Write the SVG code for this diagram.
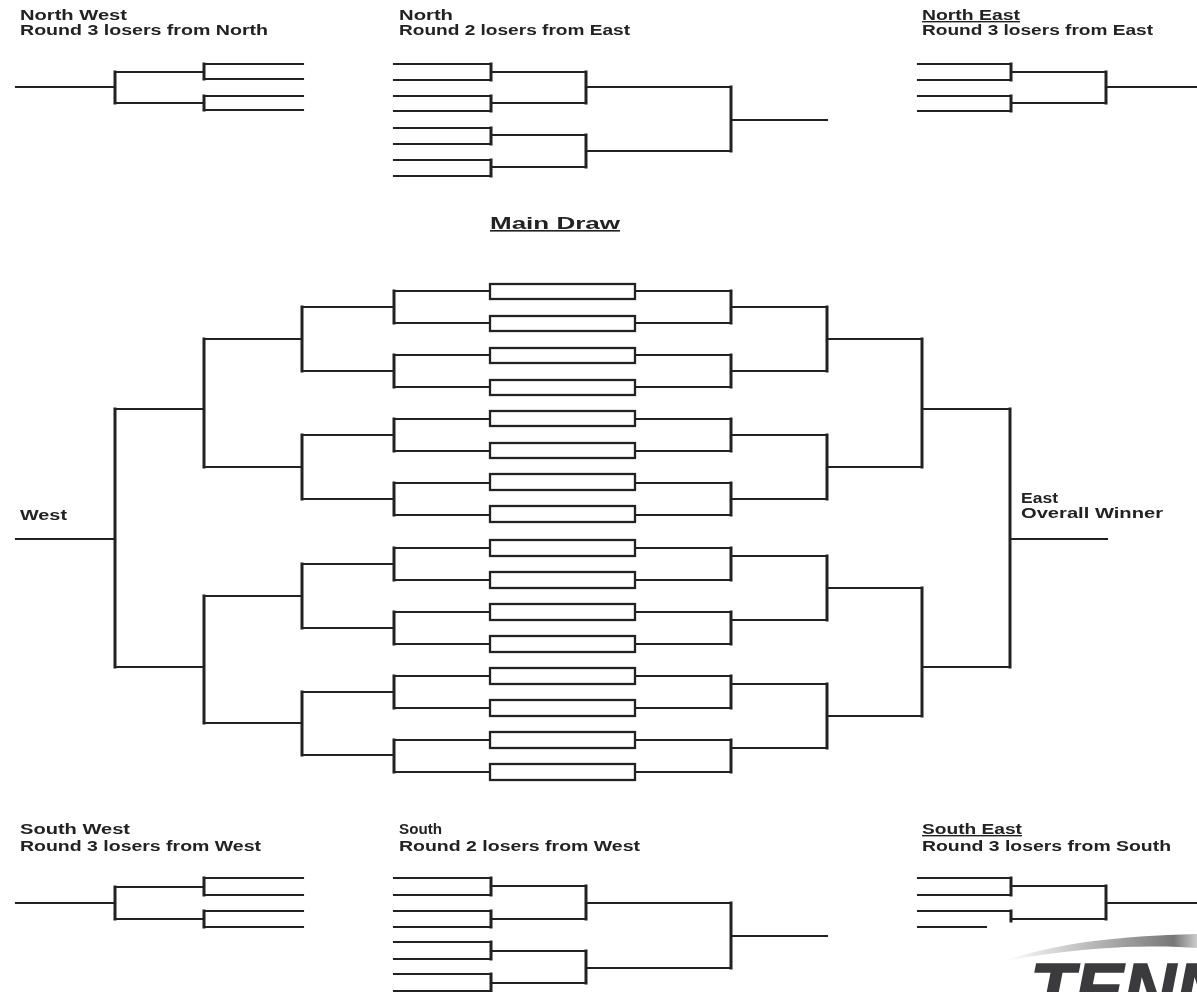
<svg xmlns="http://www.w3.org/2000/svg" width="1197" height="992" viewBox="0 0 1197 992">
<style>
.l{fill:none;stroke:#222;stroke-width:2.1;stroke-linecap:square}
.v{fill:none;stroke:#222;stroke-width:3;stroke-linecap:square}
.b{fill:#fff;stroke:#222;stroke-width:2.3}
.t{font-family:"Liberation Sans",Arial,sans-serif;font-weight:bold;font-size:14px;fill:#222}
.u{text-decoration:underline}
</style>
<defs>
<filter id="soft" x="0" y="0" width="1197" height="992" filterUnits="userSpaceOnUse"><feGaussianBlur stdDeviation="0.55"/></filter>
<linearGradient id="sw" x1="1004" y1="0" x2="1197" y2="0" gradientUnits="userSpaceOnUse"><stop offset="0" stop-color="#fff"/><stop offset="0.55" stop-color="#aaa"/><stop offset="0.88" stop-color="#777"/><stop offset="1" stop-color="#ccc"/></linearGradient>
</defs>
<rect width="1197" height="992" fill="#fff"/>
<g filter="url(#soft)">
<g id="connectors">
<path class="l" d="M490 291H394M490 323H394M490 355H394M490 387H394M490 419H394M490 451H394M490 483H394M490 515H394M490 548H394M490 580H394M490 612H394M490 644H394M490 676H394M490 708H394M490 740H394M490 772H394"/>
<path class="v" d="M394 291V323M394 355V387M394 419V451M394 483V515M394 548V580M394 612V644M394 676V708M394 740V772"/>
<path class="l" d="M394 307H302M394 371H302M394 435H302M394 499H302M394 564H302M394 628H302M394 692H302M394 755H302"/>
<path class="v" d="M302 307V371M302 435V499M302 564V628M302 692V755"/>
<path class="l" d="M302 339H204M302 467H204M302 596H204M302 723H204"/>
<path class="v" d="M204 339V467M204 596V723"/>
<path class="l" d="M204 409H115M204 667H115"/>
<path class="v" d="M115 409V667"/>
<path class="l" d="M115 539H16"/>
<path class="l" d="M635 291H731M635 323H731M635 355H731M635 387H731M635 419H731M635 451H731M635 483H731M635 515H731M635 548H731M635 580H731M635 612H731M635 644H731M635 676H731M635 708H731M635 740H731M635 772H731"/>
<path class="v" d="M731 291V323M731 355V387M731 419V451M731 483V515M731 548V580M731 612V644M731 676V708M731 740V772"/>
<path class="l" d="M731 307H827M731 371H827M731 435H827M731 499H827M731 556H827M731 620H827M731 684H827M731 748H827"/>
<path class="v" d="M827 307V371M827 435V499M827 556V620M827 684V748"/>
<path class="l" d="M827 339H922M827 467H922M827 588H922M827 716H922"/>
<path class="v" d="M922 339V467M922 588V716"/>
<path class="l" d="M922 409H1010M922 667H1010"/>
<path class="v" d="M1010 409V667"/>
<path class="l" d="M1010 539H1107"/>
<path class="l" d="M16 87H115M115 72H204M115 103H204M204 64H303M204 79H303M204 96H303M204 110H303"/>
<path class="v" d="M115 72V103M204 64V79M204 96V110"/>
<path class="l" d="M394 64H491M394 80H491M394 96H491M394 111H491M394 128H491M394 144H491M394 160H491M394 176H491M491 72H586M491 103H586M491 135H586M491 167H586M586 87H731M586 151H731M731 120H827"/>
<path class="v" d="M491 64V80M491 96V111M491 128V144M491 160V176M586 72V103M586 135V167M731 87V151"/>
<path class="l" d="M918 64H1011M918 80H1011M918 96H1011M918 111H1011M1011 72H1106M1011 103H1106M1106 87H1197"/>
<path class="v" d="M1011 64V80M1011 96V111M1106 72V103"/>
<path class="l" d="M16 903H115M115 887H204M115 919H204M204 878H303M204 895H303M204 911H303M204 927H303"/>
<path class="v" d="M115 887V919M204 878V895M204 911V927"/>
<path class="l" d="M394 878H491M394 895H491M394 911H491M394 927H491M394 942H491M394 959H491M394 974H491M394 991H491M491 886H586M491 919H586M491 951H586M491 983H586M586 903H731M586 968H731M731 936H827"/>
<path class="v" d="M491 878V895M491 911V927M491 942V959M491 974V991M586 886V919M586 951V983M731 903V968"/>
<path class="l" d="M918 878H1011M918 895H1011M918 911H1011M918 927H986M1011 886H1106M1011 919H1106M1106 903H1197"/>
<path class="v" d="M1011 878V895M1011 911V921M1106 886V919"/>
</g>
<g id="main-draw-boxes">
<g id="m1"><rect class="b" x="490" y="284" width="145" height="15"/></g>
<g id="m2"><rect class="b" x="490" y="316" width="145" height="15"/></g>
<g id="m3"><rect class="b" x="490" y="348" width="145" height="15"/></g>
<g id="m4"><rect class="b" x="490" y="380" width="145" height="15"/></g>
<g id="m5"><rect class="b" x="490" y="411" width="145" height="15"/></g>
<g id="m6"><rect class="b" x="490" y="443" width="145" height="15"/></g>
<g id="m7"><rect class="b" x="490" y="474" width="145" height="16"/></g>
<g id="m8"><rect class="b" x="490" y="506" width="145" height="16"/></g>
<g id="m9"><rect class="b" x="490" y="540" width="145" height="16"/></g>
<g id="m10"><rect class="b" x="490" y="572" width="145" height="16"/></g>
<g id="m11"><rect class="b" x="490" y="604" width="145" height="16"/></g>
<g id="m12"><rect class="b" x="490" y="636" width="145" height="16"/></g>
<g id="m13"><rect class="b" x="490" y="668" width="145" height="16"/></g>
<g id="m14"><rect class="b" x="490" y="700" width="145" height="16"/></g>
<g id="m15"><rect class="b" x="490" y="732" width="145" height="16"/></g>
<g id="m16"><rect class="b" x="490" y="764" width="145" height="16"/></g>
</g>
<g id="labels">
<g id="label-nw"><text class="t" x="20" y="20" textLength="107" lengthAdjust="spacingAndGlyphs">North West</text><text class="t" x="20" y="35" textLength="248" lengthAdjust="spacingAndGlyphs">Round 3 losers from North</text></g>
<g id="label-n"><text class="t" x="399" y="20" textLength="54" lengthAdjust="spacingAndGlyphs">North</text><text class="t" x="399" y="35" textLength="231" lengthAdjust="spacingAndGlyphs">Round 2 losers from East</text></g>
<g id="label-ne"><text class="t u" x="922" y="20" textLength="98" lengthAdjust="spacingAndGlyphs">North East</text><text class="t" x="922" y="35" textLength="231" lengthAdjust="spacingAndGlyphs">Round 3 losers from East</text></g>
<g id="label-main"><text class="t u" x="490" y="229" style="font-size:16px" textLength="130" lengthAdjust="spacingAndGlyphs">Main Draw</text></g>
<g id="label-west"><text class="t" x="20" y="520" textLength="47" lengthAdjust="spacingAndGlyphs">West</text></g>
<g id="label-east"><text class="t" x="1021" y="503" textLength="37" lengthAdjust="spacingAndGlyphs">East</text><text class="t" x="1021" y="518" textLength="142" lengthAdjust="spacingAndGlyphs">Overall Winner</text></g>
<g id="label-sw"><text class="t" x="20" y="834" textLength="110" lengthAdjust="spacingAndGlyphs">South West</text><text class="t" x="20" y="851" textLength="241" lengthAdjust="spacingAndGlyphs">Round 3 losers from West</text></g>
<g id="label-s"><text class="t" x="399" y="834" textLength="43" lengthAdjust="spacingAndGlyphs">South</text><text class="t" x="399" y="851" textLength="241" lengthAdjust="spacingAndGlyphs">Round 2 losers from West</text></g>
<g id="label-se"><text class="t u" x="922" y="834" textLength="100" lengthAdjust="spacingAndGlyphs">South East</text><text class="t" x="922" y="851" textLength="249" lengthAdjust="spacingAndGlyphs">Round 3 losers from South</text></g>
</g>
<g id="logo">
<path d="M1004 961C1050 945 1110 936 1197 934V948C1160 945 1090 945 1004 961Z" fill="url(#sw)"/>
<text x="1030" y="1014" style="font-family:'Liberation Sans',Arial,sans-serif;font-weight:bold;font-style:italic;font-size:73px;fill:#3a3a3c;stroke:#3a3a3c;stroke-width:1.5">TENN</text>
</g>
</g>
</svg>
